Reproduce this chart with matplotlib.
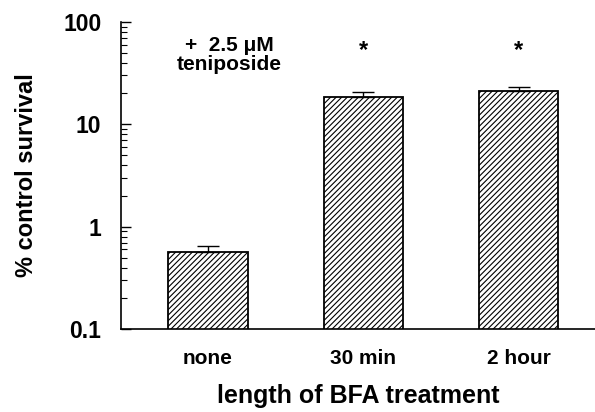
import numpy as np
import matplotlib.pyplot as plt

plt.rcParams['font.family'] = ['Liberation Sans', 'DejaVu Sans']
plt.rcParams['font.weight'] = 'bold'
plt.rcParams['hatch.linewidth'] = 0.8

groups = ['none', '30 min', '2 hour']
survival = [0.57, 18.5, 21.0]
err = [0.08, 2.0, 2.0]
signif = [False, True, True]

fig = plt.figure(figsize=(5.95, 4.12), dpi=100)
ax = fig.add_axes([0.203, 0.201, 0.797, 0.746])

x = np.arange(len(groups))
ax.bar(x, survival, width=0.51, color='white', edgecolor='black', hatch='//////',
       linewidth=1.3)
ax.errorbar(x, survival, yerr=[np.zeros(3), err], fmt='none', ecolor='black',
            elinewidth=1.0, capsize=8, capthick=1.0)
for xi, s in zip(x, signif):
    if s:
        ax.text(xi, 53, '*', ha='center', va='center', fontsize=17, fontweight='bold')

ax.text(0.14, 72, '+  2.5 \u03bcM\nteniposide', ha='center', va='top', fontsize=15,
        fontweight='bold', linespacing=0.95)

ax.set_yscale('log')
ax.set_ylim(0.1, 100)
ax.set_xlim(-0.56, 2.49)
ax.set_yticks([0.1, 1, 10, 100])
ax.set_yticklabels(['0.1', '1', '10', '100'])
ax.set_xticks(x)
ax.set_xticklabels(groups)
ax.tick_params(axis='y', which='both', direction='in', labelsize=16.5, pad=14)
ax.tick_params(axis='y', which='major', length=7, width=1)
ax.tick_params(axis='y', which='minor', length=4, width=0.8)
ax.tick_params(axis='x', length=0, labelsize=15, pad=14)
for sp in ['top', 'right']:
    ax.spines[sp].set_visible(False)
ax.spines['left'].set_linewidth(1.2)
ax.spines['bottom'].set_linewidth(1.2)
ax.set_ylabel('% control survival', fontsize=17, fontweight='bold', labelpad=18)
ax.set_xlabel('length of BFA treatment', fontsize=18, fontweight='bold', labelpad=12)

fig.savefig('out.png', dpi=100)
